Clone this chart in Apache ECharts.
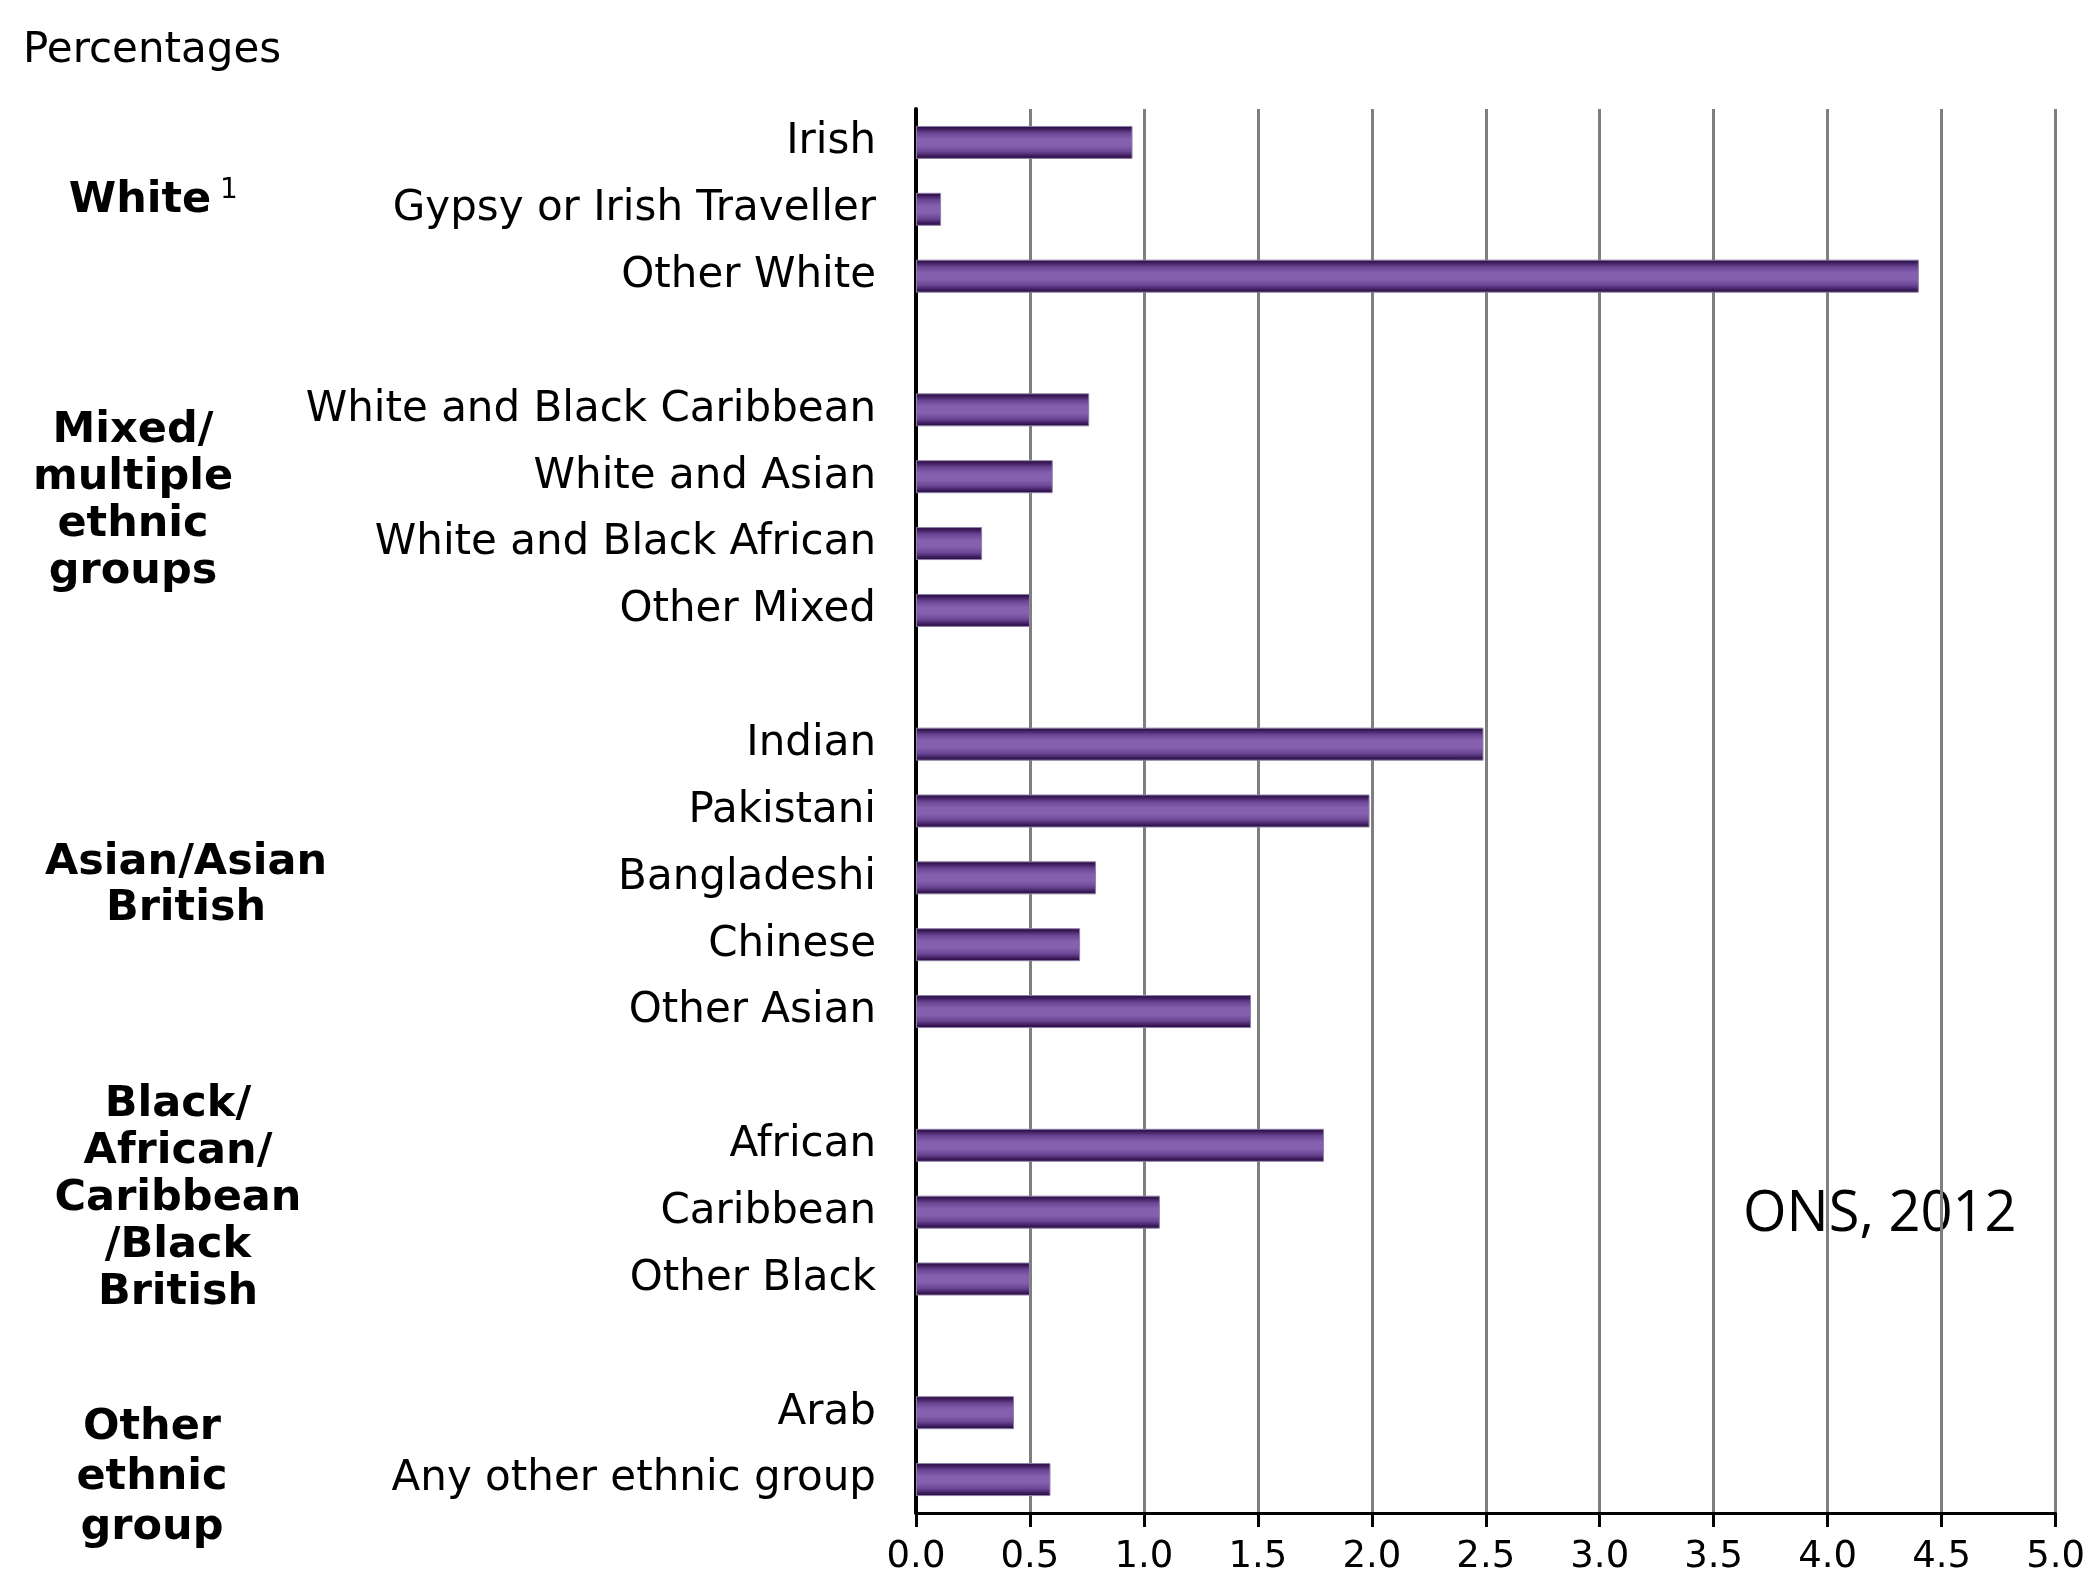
<!DOCTYPE html>
<html>
<head>
<meta charset="utf-8">
<title>Ethnic groups, percentages</title>
<script src="https://cdn.jsdelivr.net/npm/echarts@6/dist/echarts.min.js"></script>
<style>
  html, body { margin: 0; padding: 0; background: #ffffff; }
  #chart { width: 2088px; height: 1585px; }
</style>
</head>
<body>
<div id="chart"></div>
<script>
// Ethnic group categories, top to bottom; empty entries are spacer rows between groups
const categories = [
  'Irish', 'Gypsy or Irish Traveller', 'Other White', '',
  'White and Black Caribbean', 'White and Asian', 'White and Black African', 'Other Mixed', '',
  'Indian', 'Pakistani', 'Bangladeshi', 'Chinese', 'Other Asian', '',
  'African', 'Caribbean', 'Other Black', '',
  'Arab', 'Any other ethnic group'
];

// Percentage of population for each category (null for spacer rows)
const percentages = [
  0.95, 0.11, 4.40, null,
  0.76, 0.60, 0.29, 0.50, null,
  2.49, 1.99, 0.79, 0.72, 1.47, null,
  1.79, 1.07, 0.50, null,
  0.43, 0.59
];

// Axis ticks
const xTicks = [0, 0.5, 1, 1.5, 2, 2.5, 3, 3.5, 4, 4.5, 5];

// Group headings shown to the left of the category labels
const groupHeadings = [
  'Mixed/\nmultiple\nethnic\ngroups',
  'Asian/Asian\nBritish',
  'Black/\nAfrican/\nCaribbean\n/Black\nBritish',
  'Other\nethnic\ngroup'
];

const chart = echarts.init(document.getElementById('chart'));

// Rounded, tube-like shading across the bar thickness
const barFill = new echarts.graphic.LinearGradient(0, 0, 0, 1, [
  { offset: 0.00, color: '#1f0637' },
  { offset: 0.08, color: '#3a1a58' },
  { offset: 0.22, color: '#6a4594' },
  { offset: 0.40, color: '#8560ae' },
  { offset: 0.60, color: '#8560ae' },
  { offset: 0.78, color: '#6a4594' },
  { offset: 0.92, color: '#3a1a58' },
  { offset: 1.00, color: '#1f0637' }
]);

const headingFont = 'bold 43px "DejaVu Sans"';

chart.setOption({
  animation: false,
  backgroundColor: '#ffffff',
  grid: { left: 916, right: 26, top: 109, bottom: 72, containLabel: false },
  xAxis: {
    type: 'value',
    min: xTicks[0],
    max: xTicks[xTicks.length - 1],
    interval: xTicks[1] - xTicks[0],
    axisLine: { show: true, lineStyle: { color: '#000000', width: 3 } },
    axisTick: { show: true, length: 14, lineStyle: { color: '#000000', width: 3 } },
    splitLine: { show: true, lineStyle: { color: '#7f7f7f', width: 3 } },
    axisLabel: {
      margin: 26,
      color: '#000000',
      fontFamily: 'DejaVu Sans',
      fontSize: 37,
      formatter: function (v) { return v.toFixed(1); }
    }
  },
  yAxis: {
    type: 'category',
    inverse: true,
    data: categories,
    axisLine: { show: true, lineStyle: { color: '#000000', width: 4 } },
    axisTick: { show: false },
    splitLine: { show: false },
    axisLabel: {
      margin: 40,
      color: '#000000',
      fontFamily: 'DejaVu Sans',
      fontSize: 42,
      interval: 0
    }
  },
  series: [{
    type: 'bar',
    data: percentages,
    barWidth: 33,
    itemStyle: {
      color: barFill,
      borderColor: '#8f80a8',
      borderWidth: 1
    }
  }],
  graphic: [
    {
      type: 'text', left: 23, top: 30,
      style: { text: 'Percentages', font: '42px "DejaVu Sans"', fill: '#000000' }
    },
    {
      type: 'text', x: 140, y: 201,
      style: { text: 'White', font: headingFont, fill: '#000000', align: 'center', verticalAlign: 'middle' }
    },
    {
      type: 'text', x: 229, y: 191,
      style: { text: '1', font: '28px "DejaVu Sans"', fill: '#000000', align: 'center', verticalAlign: 'middle' }
    },
    {
      type: 'text', x: 133, y: 501,
      style: { text: groupHeadings[0], font: headingFont, lineHeight: 47, fill: '#000000', align: 'center', verticalAlign: 'middle' }
    },
    {
      type: 'text', x: 186, y: 886,
      style: { text: groupHeadings[1], font: headingFont, lineHeight: 46, fill: '#000000', align: 'center', verticalAlign: 'middle' }
    },
    {
      type: 'text', x: 178, y: 1199,
      style: { text: groupHeadings[2], font: headingFont, lineHeight: 47, fill: '#000000', align: 'center', verticalAlign: 'middle' }
    },
    {
      type: 'text', x: 152, y: 1478,
      style: { text: groupHeadings[3], font: headingFont, lineHeight: 50, fill: '#000000', align: 'center', verticalAlign: 'middle' }
    },
    {
      type: 'text', x: 1743, y: 1215,
      style: { text: 'ONS, 2012', font: '56px "Open Sans"', fill: '#000000', align: 'left', verticalAlign: 'middle' }
    }
  ]
});
</script>
</body>
</html>
